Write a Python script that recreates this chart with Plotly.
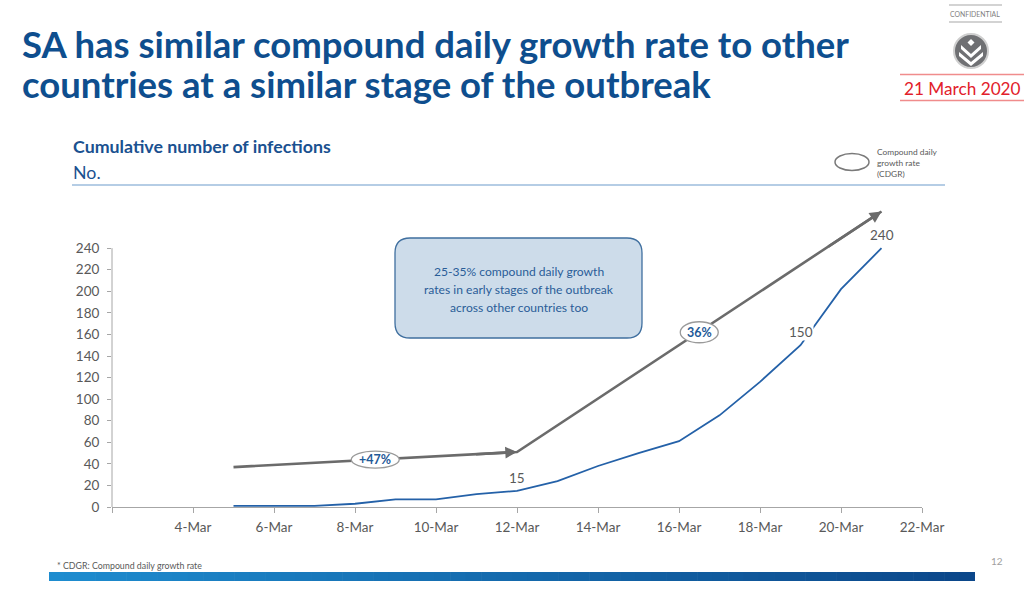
import plotly.graph_objects as go
import datetime as _dt

W, H = 1024, 605

# ---------------- data ----------------
dates = ["2020-03-05", "2020-03-06", "2020-03-07", "2020-03-08", "2020-03-09",
         "2020-03-10", "2020-03-11", "2020-03-12", "2020-03-13", "2020-03-14",
         "2020-03-15", "2020-03-16", "2020-03-17", "2020-03-18", "2020-03-19",
         "2020-03-20", "2020-03-21"]
cases = [1, 1, 1, 3, 7, 7, 12, 15, 24, 38, 50, 61, 85, 116, 150, 202, 240]

label_dates = ["2020-03-12", "2020-03-19", "2020-03-21"]
label_values = [15, 150, 240]

cdgr_dates = ["2020-03-05", "2020-03-12", "2020-03-21"]
cdgr_values = [37, 51, 274]
cdgr_label_dates = ["2020-03-08 12:00", "2020-03-16 12:00"]
cdgr_label_values = [44, 162]
cdgr_labels = ["+47%", "36%"]

tick_dates = ["2020-03-02", "2020-03-04", "2020-03-06", "2020-03-08", "2020-03-10",
              "2020-03-12", "2020-03-14", "2020-03-16", "2020-03-18", "2020-03-20",
              "2020-03-22"]
tick_labels = ["", "4-Mar", "6-Mar", "8-Mar", "10-Mar", "12-Mar", "14-Mar",
               "16-Mar", "18-Mar", "20-Mar", "22-Mar"]
y_ticks = list(range(0, 241, 20))

# ---------------- helpers ----------------
def PX(x):
    return x / W


def PY(y):
    return 1 - y / H


FONT = "Lato"
DARK_BLUE = "#0e4e8e"
GRAY_TXT = "#595959"
AX_GRAY = "#a6a6a6"
ARROW_GRAY = "#6b6b6b"

fig = go.Figure()

# CDGR guide line (gray)
fig.add_trace(go.Scatter(
    x=cdgr_dates, y=cdgr_values, mode="lines",
    line=dict(color=ARROW_GRAY, width=2.6),
    hoverinfo="skip", showlegend=False, cliponaxis=False,
))

fig.add_trace(go.Scatter(
    x=dates, y=cases, mode="lines",
    line=dict(color="#2461a8", width=1.8),
    hoverinfo="skip", showlegend=False,
))

shapes = []
annotations = []


def _lerp_date(a, b, t):
    da = _dt.datetime.fromisoformat(a)
    db = _dt.datetime.fromisoformat(b)
    return (da + (db - da) * t).isoformat(sep=" ")


# arrowheads at the end of each CDGR segment (short arrows laid over the line)
for i in range(len(cdgr_dates) - 1):
    tail_x = _lerp_date(cdgr_dates[i], cdgr_dates[i + 1], 0.85)
    tail_y = cdgr_values[i] + (cdgr_values[i + 1] - cdgr_values[i]) * 0.85
    annotations.append(dict(
        x=cdgr_dates[i + 1], y=cdgr_values[i + 1], xref="x", yref="y",
        ax=tail_x, ay=tail_y, axref="x", ayref="y",
        text="", showarrow=True, arrowhead=2, arrowsize=0.9,
        arrowwidth=2.6, arrowcolor=ARROW_GRAY, standoff=0, startstandoff=0,
    ))

# CDGR ellipses + labels
ell_sizes = [(24, 8.5), (19, 10.5)]
for d, v, t, (rx, ry) in zip(cdgr_label_dates, cdgr_label_values, cdgr_labels, ell_sizes):
    shapes.append(dict(
        type="circle", xref="x", yref="y", xsizemode="pixel", ysizemode="pixel",
        xanchor=d, yanchor=v, x0=-rx, x1=rx, y0=-ry, y1=ry,
        fillcolor="white", line=dict(color="#9a9a9a", width=1.3), layer="above",
    ))
    annotations.append(dict(
        x=d, y=v, xref="x", yref="y", text="<b>%s</b>" % t, showarrow=False,
        font=dict(family=FONT, size=12.5, color="#1f5a98"),
    ))

# data labels
for d, v in zip(label_dates, label_values):
    annotations.append(dict(
        x=d, y=v, xref="x", yref="y", text=str(v), showarrow=False,
        yshift=13, bgcolor="white", borderpad=0,
        font=dict(family=FONT, size=13.5, color=GRAY_TXT),
    ))

# y axis line (only up to 240)
shapes.append(dict(type="line", xref="paper", yref="y", x0=PX(112), x1=PX(112),
                   y0=0, y1=240, line=dict(color=AX_GRAY, width=1)))


# rounded callout box
def rounded_rect(x0, y0, x1, y1, r):
    pts = [
        ("M", [(x0 + r, y0)]),
        ("L", [(x1 - r, y0)]),
        ("Q", [(x1, y0), (x1, y0 + r)]),
        ("L", [(x1, y1 - r)]),
        ("Q", [(x1, y1), (x1 - r, y1)]),
        ("L", [(x0 + r, y1)]),
        ("Q", [(x0, y1), (x0, y1 - r)]),
        ("L", [(x0, y0 + r)]),
        ("Q", [(x0, y0), (x0 + r, y0)]),
    ]
    s = ""
    for cmd, ps in pts:
        s += cmd + " " + " ".join("%f,%f" % (PX(a), PY(b)) for a, b in ps) + " "
    return s + "Z"


shapes.append(dict(type="path", xref="paper", yref="paper",
                   path=rounded_rect(395, 238, 642, 338, 15),
                   fillcolor="#cddcea", line=dict(color="#3f6f9f", width=1.3)))
for i, t in enumerate(["25-35% compound daily growth",
                       "rates in early stages of the outbreak",
                       "across other countries too"]):
    annotations.append(dict(
        x=PX(518.5), y=PY(271 + 18 * i), xref="paper", yref="paper", text=t,
        showarrow=False, xanchor="center", yanchor="middle",
        font=dict(family=FONT, size=12.1, color="#2a5d98"),
    ))

# title
for i, t in enumerate(["SA has similar compound daily growth rate to other",
                       "countries at a similar stage of the outbreak"]):
    annotations.append(dict(
        x=PX(20), y=PY(44 + 40 * i), xref="paper", yref="paper", text="<b>%s</b>" % t,
        showarrow=False, xanchor="left", yanchor="middle",
        font=dict(family=FONT, size=36.5, color=DARK_BLUE),
    ))

# header
annotations.append(dict(x=PX(71), y=PY(146), xref="paper", yref="paper",
                        text="<b>Cumulative number of infections</b>", showarrow=False,
                        xanchor="left", yanchor="middle",
                        font=dict(family=FONT, size=17.8, color="#1a5190")))
annotations.append(dict(x=PX(71), y=PY(172), xref="paper", yref="paper",
                        text="No.", showarrow=False, xanchor="left", yanchor="middle",
                        font=dict(family=FONT, size=17.8, color="#1a5190")))
shapes.append(dict(type="line", xref="paper", yref="paper", x0=PX(72), x1=PX(945),
                   y0=PY(185), y1=PY(185), line=dict(color="#9dbcdc", width=1.5)))

# legend ellipse
shapes.append(dict(type="circle", xref="paper", yref="paper",
                   x0=PX(835), x1=PX(869), y0=PY(153.5), y1=PY(170.5),
                   line=dict(color="#7a7a7a", width=1.5)))
for i, t in enumerate(["Compound daily", "growth rate", "(CDGR)"]):
    annotations.append(dict(x=PX(875), y=PY(152 + 11 * i), xref="paper", yref="paper",
                            text=t, showarrow=False, xanchor="left", yanchor="middle",
                            font=dict(family=FONT, size=8.4, color=GRAY_TXT)))

# confidential
annotations.append(dict(x=PX(975), y=PY(14), xref="paper", yref="paper",
                        text="CONFIDENTIAL", showarrow=False, xanchor="center",
                        yanchor="middle", font=dict(family=FONT, size=6.9, color="#7f7f7f")))
for yy in (5, 22):
    shapes.append(dict(type="line", xref="paper", yref="paper", x0=PX(949), x1=PX(1002),
                       y0=PY(yy), y1=PY(yy), line=dict(color="#c4c4c4", width=1.5)))

# logo
shapes.append(dict(type="circle", xref="paper", yref="paper",
                   x0=PX(954), x1=PX(988), y0=PY(34), y1=PY(68),
                   fillcolor="#6f7073", line=dict(color="#cfcfcf", width=2)))


def poly(points):
    return "M " + " L ".join("%f,%f" % (PX(a), PY(b)) for a, b in points) + " Z"


shapes.append(dict(type="path", xref="paper", yref="paper",
                   path=poly([(971, 39), (974.5, 42.5), (971, 46), (967.5, 42.5)]),
                   fillcolor="white", line=dict(width=0)))
shapes.append(dict(type="path", xref="paper", yref="paper",
                   path=poly([(961, 45), (971, 54), (981, 45), (981, 49), (971, 58), (961, 49)]),
                   fillcolor="white", line=dict(width=0)))
shapes.append(dict(type="path", xref="paper", yref="paper",
                   path=poly([(959, 52), (971, 62), (983, 52), (983, 56), (971, 66), (959, 56)]),
                   fillcolor="white", line=dict(width=0)))

# date
annotations.append(dict(x=PX(962), y=PY(88), xref="paper", yref="paper",
                        text="21 March 2020", showarrow=False, xanchor="center",
                        yanchor="middle", font=dict(family=FONT, size=17.2, color="#e2202a")))
for yy in (74.5, 100.5):
    shapes.append(dict(type="line", xref="paper", yref="paper", x0=PX(900), x1=PX(1024),
                       y0=PY(yy), y1=PY(yy), line=dict(color="#f08c8c", width=1.3)))

# footer
annotations.append(dict(x=PX(55), y=PY(565), xref="paper", yref="paper",
                        text="* CDGR: Compound daily growth rate", showarrow=False,
                        xanchor="left", yanchor="middle",
                        font=dict(family=FONT, size=8.8, color=GRAY_TXT)))
annotations.append(dict(x=PX(997), y=PY(561), xref="paper", yref="paper",
                        text="12", showarrow=False, xanchor="center", yanchor="middle",
                        font=dict(family=FONT, size=10, color="#a0a0a0")))
n = 60
c0 = (0x1e, 0x8c, 0xcf)
c1 = (0x0b, 0x47, 0x8a)
x_start, x_end = 49, 975
for i in range(n):
    t = i / (n - 1)
    col = "rgb(%d,%d,%d)" % tuple(round(a + (b - a) * t) for a, b in zip(c0, c1))
    xa = x_start + (x_end - x_start) * i / n
    xb = x_start + (x_end - x_start) * (i + 1) / n + 0.6
    shapes.append(dict(type="rect", xref="paper", yref="paper",
                       x0=PX(xa), x1=PX(min(xb, x_end)), y0=PY(572), y1=PY(581),
                       fillcolor=col, line=dict(width=0), layer="below"))

fig.update_layout(
    width=W, height=H,
    margin=dict(l=0, r=0, t=0, b=0, pad=0, autoexpand=False),
    paper_bgcolor="white", plot_bgcolor="white",
    showlegend=False,
    font=dict(family=FONT, color=GRAY_TXT),
    xaxis=dict(
        domain=[PX(112), PX(922)], type="date",
        range=["2020-03-02", "2020-03-22"],
        tickvals=tick_dates, ticktext=tick_labels,
        showgrid=False, zeroline=False, showline=True, linecolor=AX_GRAY, linewidth=1,
        ticks="outside", ticklen=5, tickcolor=AX_GRAY,
        ticklabelstandoff=3, automargin=False,
        tickfont=dict(family=FONT, size=13.5, color=GRAY_TXT),
    ),
    yaxis=dict(
        domain=[PY(507), PY(205)], range=[0, 280],
        tickvals=y_ticks,
        showgrid=False, zeroline=False, showline=False,
        ticks="outside", ticklen=4, tickcolor=AX_GRAY,
        ticklabelstandoff=5, automargin=False,
        tickfont=dict(family=FONT, size=13.5, color=GRAY_TXT),
    ),
    shapes=shapes,
    annotations=annotations,
)

fig.write_html(
    "out.html",
    config={"displayModeBar": False, "staticPlot": True},
    post_script=(
        "var s=document.createElement('style');"
        "s.textContent='html,body{margin:0!important;padding:0!important;overflow:hidden!important;}';"
        "document.head.appendChild(s);"
    ),
)
